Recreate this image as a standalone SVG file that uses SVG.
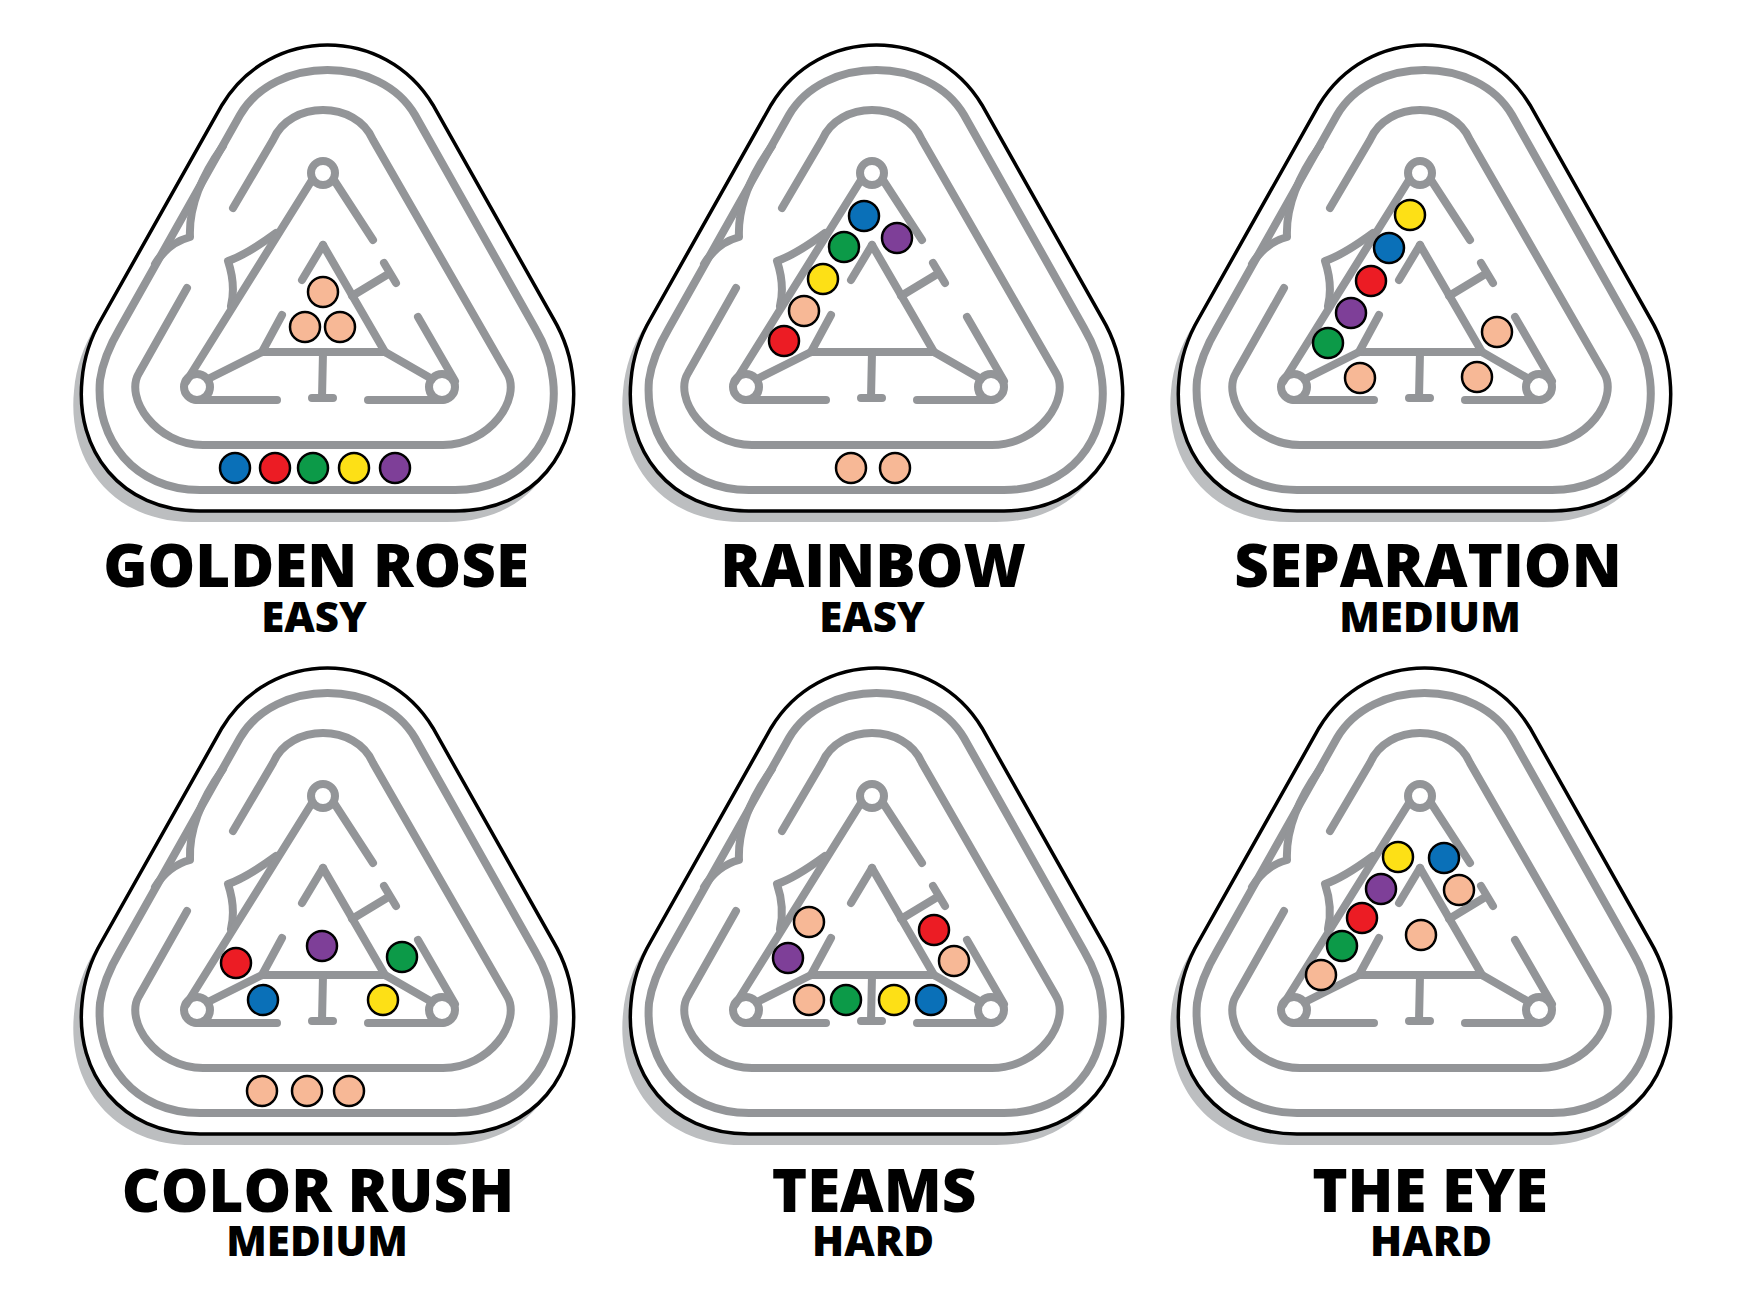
<svg xmlns="http://www.w3.org/2000/svg" xmlns:xlink="http://www.w3.org/1999/xlink" width="1760" height="1306" viewBox="0 0 1760 1306">
<style>
.g{fill:none;stroke:#939598;stroke-width:8;stroke-linecap:round;stroke-linejoin:round}
.b{stroke:#000;stroke-width:2.5}
.pe{fill:#f7b896}.bl{fill:#0a70b8}.rd{fill:#ec1c24}.gr{fill:#0c9a48}.ye{fill:#fde016}.pu{fill:#7e3f98}
.t{font-family:"Open Sans","Liberation Sans",sans-serif;font-weight:800;font-size:60px;text-anchor:middle;fill:#000}
.s{font-family:"Open Sans","Liberation Sans",sans-serif;font-weight:800;font-size:42px;text-anchor:middle;fill:#000}
</style>
<defs>
<path id="shape" d="M200,511 L455,511 C535,511 580,450 573,380 C571,355 563,335 553,318 L433,105 C385,25 270,25 222,105 L102,318 C92,335 84,355 82,380 C75,450 120,511 200,511 Z"/>
<g id="board">
<use xlink:href="#shape" href="#shape" transform="translate(-8,11)" fill="#bcbec0"/>
<use xlink:href="#shape" href="#shape" fill="#fff" stroke="#000" stroke-width="3.5"/>
<g class="g">
<path d="M200,490 L455,490 C520,490 560,440 553,380 C551,360 545,345 535,328 L415,115 C380,55 275,55 240,115 L120,328 C110,345 103,360 100,380 C95,440 135,490 200,490 Z"/>
<path d="M223,146 Q188,195 190,237 Q168,243 155,264"/>
<path d="M233,208 L273,140 C290,100 356,100 373,140 L507,373 C522,398 490,445 443,445 L203,445 C156,445 124,398 139,373 L187,288"/>
<path d="M276,233 Q246,255 228,261 Q236,285 231,306"/>
<circle cx="323" cy="173" r="12"/>
<circle cx="197" cy="387" r="13"/>
<circle cx="442" cy="387" r="13"/>
<path d="M312,180 L186,382"/>
<path d="M334,180 L373,240"/>
<path d="M197,400 L277,400"/>
<path d="M368,400 L442,400"/>
<path d="M455,381 L418,317"/>
<path d="M208,379 L262,352 L385,352 L432,379"/>
<path d="M323,245 L385,352"/>
<path d="M323,245 L302,280"/>
<path d="M282,315 L262,352"/>
<path d="M352,296 L390,273 M384,263 L396,283"/>
<path d="M323,352 L322,398 M312,398 L333,398"/>
</g>
</g>
</defs>

<g id="golden-rose">
<use xlink:href="#board" href="#board"/>
<g class="b">
<circle class="pe" cx="323" cy="292" r="15"/><circle class="pe" cx="305" cy="327" r="15"/><circle class="pe" cx="340" cy="327" r="15"/>
<circle class="bl" cx="235" cy="468" r="15"/><circle class="rd" cx="275" cy="468" r="15"/><circle class="gr" cx="313" cy="468" r="15"/><circle class="ye" cx="354" cy="468" r="15"/><circle class="pu" cx="395" cy="468" r="15"/>
</g>
<text class="t" x="316" y="587">GOLDEN ROSE</text>
<text class="s" x="314" y="632">EASY</text>
</g>

<g id="rainbow" transform="translate(549,0)">
<use xlink:href="#board" href="#board"/>
<g class="b">
<circle class="bl" cx="315" cy="216" r="15"/><circle class="pu" cx="348" cy="238" r="15"/><circle class="gr" cx="295" cy="247" r="15"/><circle class="ye" cx="274" cy="279" r="15"/><circle class="pe" cx="255" cy="311" r="15"/><circle class="rd" cx="235" cy="341" r="15"/>
<circle class="pe" cx="302" cy="468" r="15"/><circle class="pe" cx="346" cy="468" r="15"/>
</g>
<text class="t" x="324" y="587">RAINBOW</text>
<text class="s" x="323" y="632">EASY</text>
</g>

<g id="separation" transform="translate(1097,0)">
<use xlink:href="#board" href="#board"/>
<g class="b">
<circle class="ye" cx="313" cy="215" r="15"/><circle class="bl" cx="292" cy="248" r="15"/><circle class="rd" cx="274" cy="281" r="15"/><circle class="pu" cx="254" cy="313" r="15"/><circle class="gr" cx="231" cy="343" r="15"/>
<circle class="pe" cx="263" cy="378" r="15"/><circle class="pe" cx="380" cy="377" r="15"/><circle class="pe" cx="400" cy="332" r="15"/>
</g>
<text class="t" x="331" y="587">SEPARATION</text>
<text class="s" x="333" y="632">MEDIUM</text>
</g>

<g id="color-rush" transform="translate(0,623)">
<use xlink:href="#board" href="#board"/>
<g class="b">
<circle class="rd" cx="236" cy="340" r="15"/><circle class="pu" cx="322" cy="323" r="15"/><circle class="gr" cx="402" cy="334" r="15"/><circle class="bl" cx="263" cy="377" r="15"/><circle class="ye" cx="383" cy="377" r="15"/>
<circle class="pe" cx="262" cy="468" r="15"/><circle class="pe" cx="307" cy="468" r="15"/><circle class="pe" cx="349" cy="468" r="15"/>
</g>
<text class="t" x="318" y="589">COLOR RUSH</text>
<text class="s" x="317" y="633">MEDIUM</text>
</g>

<g id="teams" transform="translate(549,623)">
<use xlink:href="#board" href="#board"/>
<g class="b">
<circle class="pe" cx="260" cy="299" r="15"/><circle class="pu" cx="239" cy="335" r="15"/><circle class="pe" cx="260" cy="377" r="15"/><circle class="gr" cx="297" cy="377" r="15"/><circle class="ye" cx="345" cy="377" r="15"/><circle class="bl" cx="382" cy="377" r="15"/><circle class="rd" cx="385" cy="307" r="15"/><circle class="pe" cx="405" cy="338" r="15"/>
</g>
<text class="t" x="325" y="589">TEAMS</text>
<text class="s" x="324" y="633">HARD</text>
</g>

<g id="the-eye" transform="translate(1097,623)">
<use xlink:href="#board" href="#board"/>
<g class="b">
<circle class="ye" cx="301" cy="234" r="15"/><circle class="bl" cx="347" cy="235" r="15"/><circle class="pu" cx="284" cy="266" r="15"/><circle class="pe" cx="362" cy="267" r="15"/><circle class="rd" cx="265" cy="295" r="15"/><circle class="pe" cx="324" cy="312" r="15"/><circle class="gr" cx="245" cy="323" r="15"/><circle class="pe" cx="224" cy="352" r="15"/>
</g>
<text class="t" x="333" y="589">THE EYE</text>
<text class="s" x="334" y="633">HARD</text>
</g>
</svg>
